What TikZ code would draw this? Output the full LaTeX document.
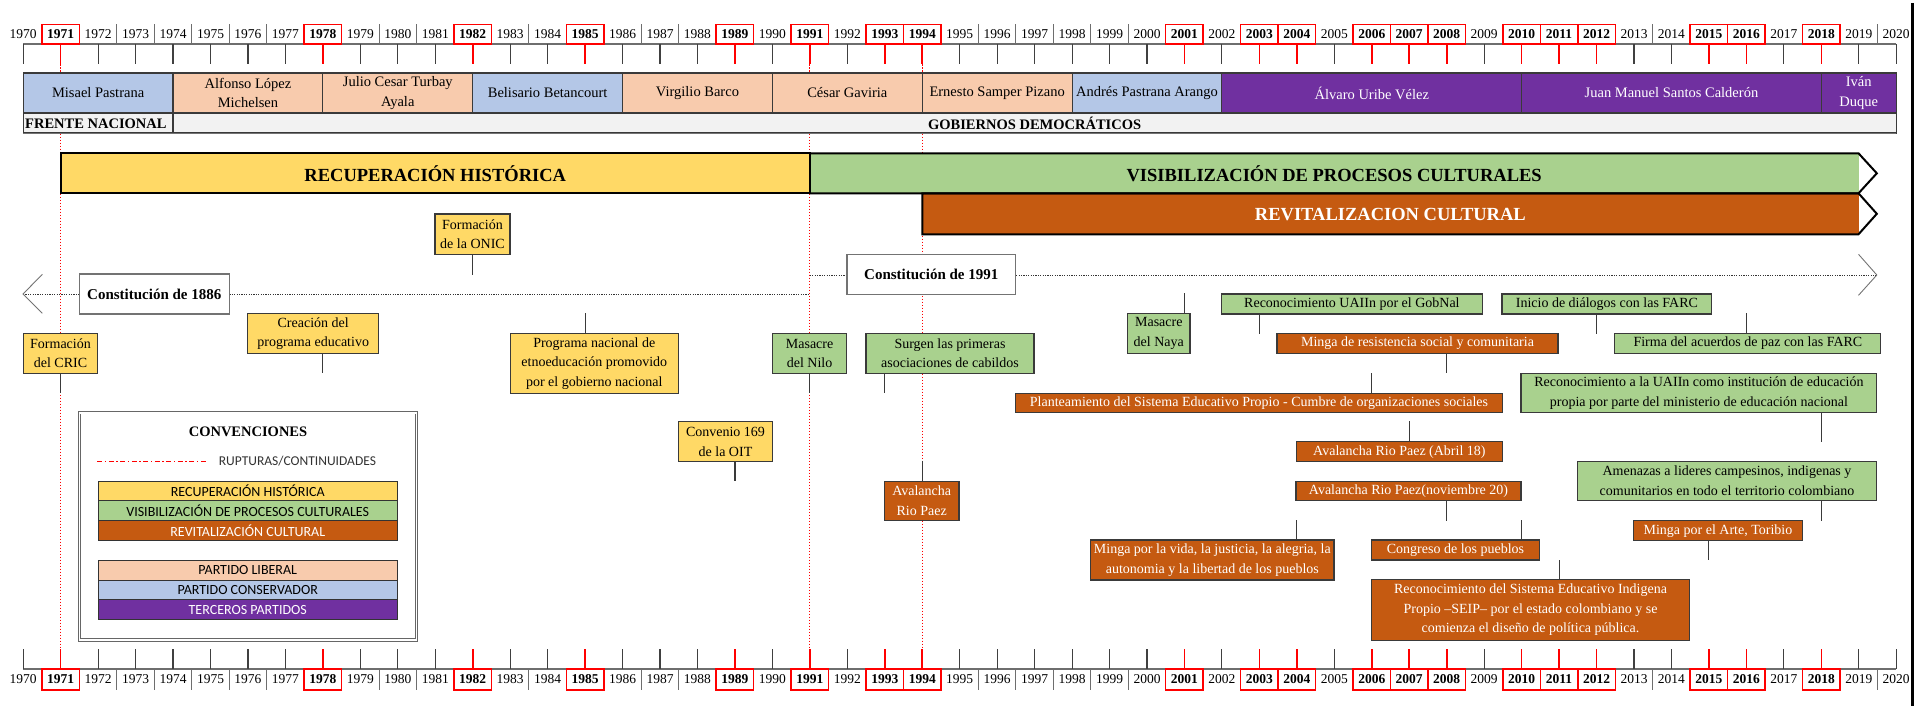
\documentclass[tikz,border=0pt]{standalone}
\usepackage{fontspec}
\setmainfont{Liberation Serif}
\newfontfamily\legfont{Carlito}
\definecolor{cyel}{HTML}{FFD966}
\definecolor{cgrn}{HTML}{A9D18E}
\definecolor{corg}{HTML}{C55A11}
\definecolor{cpch}{HTML}{F8CBAD}
\definecolor{cblu}{HTML}{B4C7E7}
\definecolor{cpur}{HTML}{7030A0}
\definecolor{clgr}{HTML}{F2F2F2}
\definecolor{boxline}{HTML}{3A3A3A}
\definecolor{axgray}{HTML}{6E6E6E}
\begin{document}
\begin{tikzpicture}[x=1pt,y=-1pt,
  declare function={yx(\yy)=23.2+(\yy-1970)*37.46;},
  evt/.style={draw=boxline, line width=1.1pt, inner sep=0pt, align=center,
    font=\fontsize{14}{19.5}\selectfont},
  yel/.style={evt, fill=cyel},
  grn/.style={evt, fill=cgrn},
  org/.style={evt, fill=corg, text=white},
  conn/.style={draw=boxline, line width=1.1pt},
  yrlab/.style={inner sep=0pt, font=\fontsize{13.5}{15}\selectfont},
  yrbold/.style={inner sep=0pt, font=\fontsize{13.5}{15}\selectfont\bfseries},
  tick/.style={draw=black!75, line width=1.1pt},
  redtick/.style={draw=red, line width=1.6pt},
  redbox/.style={draw=red, line width=1.5pt},
  sepline/.style={draw=axgray, line width=1pt},
  pline/.style={draw=boxline, line width=1.1pt},
  ptext/.style={inner sep=0pt, align=center, font=\fontsize{14.5}{19.5}\selectfont},
  phase/.style={inner sep=0pt, font=\fontsize{18.5}{20}\selectfont\bfseries},
  barline/.style={draw=black, line width=2pt, line join=miter},
  rupt/.style={draw=red, line width=1pt, dash pattern=on 1.5pt off 1.5pt},
  dotl/.style={draw=black!80, line width=1pt, dash pattern=on 1.2pt off 1.2pt},
  chev/.style={draw=black!55, line width=0.9pt},
  cbox/.style={draw=black!55, fill=white, line width=1.1pt, inner sep=0pt,
    font=\fontsize{15}{17}\selectfont\bfseries},
  legrow/.style={draw=black!80, line width=1pt, inner sep=0pt,
    minimum width=299.1, minimum height=19.7,
    font=\legfont\fontsize{14}{16}\selectfont}
]
\useasboundingbox (0,0) rectangle (1929,706);

% ---- rupture / continuity lines ----
\foreach \Y in {1971,1991,1994}
  \draw[rupt] ({yx(\Y)},64.5) -- ({yx(\Y)},649);

% ---- year axes (top and bottom) ----
\foreach \Y in {1970,...,2019} {
  \draw[sepline] ({yx(\Y)+18.73},24.3) -- ({yx(\Y)+18.73},44);
  \draw[sepline] ({yx(\Y)+18.73},669) -- ({yx(\Y)+18.73},690);
}
\draw[sepline, line width=1.3pt] ({yx(1970)},44) -- ({yx(2020)},44);
\draw[sepline, line width=1.3pt] ({yx(1970)},669) -- ({yx(2020)},669);
\foreach \Y in {1970,1972,1973,1974,1975,1976,1977,1979,1980,1981,1983,1984,1986,1987,1988,1990,1992,1995,1996,1997,1998,1999,2000,2002,2005,2009,2013,2014,2017,2019,2020} {
  \draw[tick] ({yx(\Y)},44) -- ({yx(\Y)},64.5);
  \draw[tick] ({yx(\Y)},649) -- ({yx(\Y)},669);
  \node[yrlab] (ta\Y) at ({yx(\Y)},34.5) {\Y};
  \node[yrlab] (ba\Y) at ({yx(\Y)},679.5) {\Y};
}
\foreach \Y in {1971,1978,1982,1985,1989,1991,1993,1994,2001,2003,2004,2006,2007,2008,2010,2011,2012,2015,2016,2018} {
  \draw[redtick] ({yx(\Y)},44) -- ({yx(\Y)},64.5);
  \draw[redtick] ({yx(\Y)},649) -- ({yx(\Y)},669);
  \draw[redbox] ({yx(\Y)-18.73},24.3) rectangle ({yx(\Y)+18.73},44);
  \draw[redbox] ({yx(\Y)-18.73},669) rectangle ({yx(\Y)+18.73},690);
  \node[yrbold] (ta\Y) at ({yx(\Y)},34.5) {\Y};
  \node[yrbold] (ba\Y) at ({yx(\Y)},679.5) {\Y};
}

% ---- presidents ----
\newcommand\presbox[6]{%
  \draw[pline, fill=#4] ({yx(#2)},73) rectangle ({yx(#3)},113);
  \node[ptext, text=#5] (#1) at ({(yx(#2)+yx(#3))/2},93) {#6};}
\presbox{pr1}{1970}{1974}{cblu}{black}{Misael Pastrana}
\presbox{pr2}{1974}{1978}{cpch}{black}{Alfonso López\\Michelsen}
\presbox{pr3}{1978}{1982}{cpch}{black}{Julio Cesar Turbay\\Ayala}
\presbox{pr4}{1982}{1986}{cblu}{black}{Belisario Betancourt}
\presbox{pr5}{1986}{1990}{cpch}{black}{Virgilio Barco}
\presbox{pr6}{1990}{1994}{cpch}{black}{César Gaviria}
\presbox{pr7}{1994}{1998}{cpch}{black}{Ernesto Samper Pizano}
\presbox{pr8}{1998}{2002}{cblu}{black}{Andrés Pastrana Arango}
\presbox{pr9}{2002}{2010}{cpur}{white}{Álvaro Uribe Vélez}
\presbox{pr10}{2010}{2018}{cpur}{white}{Juan Manuel Santos Calderón}
\presbox{pr11}{2018}{2020}{cpur}{white}{Iván\\Duque}

% ---- periods ----
\draw[pline, fill=clgr] ({yx(1970)},113) rectangle ({yx(1974)},133);
\draw[pline, fill=clgr] ({yx(1974)},113) rectangle ({yx(2020)},133);
\draw[draw=black!55, line width=1.6pt] ({yx(1970)},133.5) -- ({yx(2020)},133.5);
\node[inner sep=0pt, anchor=west, font=\fontsize{14.5}{16}\selectfont\bfseries] (fn) at (25,123.5) {FRENTE NACIONAL};
\node[inner sep=0pt, font=\fontsize{14.5}{16}\selectfont\bfseries] (gd) at ({(yx(1974)+yx(2020))/2},123.5) {GOBIERNOS DEMOCRÁTICOS};

% ---- phase bars ----
\fill[cyel] ({yx(1971)},153.3) rectangle ({yx(1991)},193.3);
\fill[cgrn] ({yx(1991)},153.3) rectangle (1858.5,193.3);
\fill[corg] ({yx(1994)},193.3) rectangle (1858.5,234.3);
\draw[barline] ({yx(1971)},153.3) rectangle ({yx(1991)},193.3);
\draw[barline] ({yx(1991)},153.3) -- (1858.5,153.3) -- (1876.8,173.3) -- (1858.5,193.3) -- ({yx(1991)},193.3);
\draw[barline] ({yx(1994)},193.3) -- (1858.5,193.3) -- (1876.8,213.8) -- (1858.5,234.3) -- ({yx(1994)},234.3) -- cycle;
\node[phase] (ph1) at ({(yx(1971)+yx(1991))/2},174) {RECUPERACIÓN HISTÓRICA};
\node[phase] (ph2) at ({(yx(1991)+1858.5)/2},174) {VISIBILIZACIÓN DE PROCESOS CULTURALES};
\node[phase, text=white] (ph3) at ({(yx(1994)+1858.5)/2},214.5) {REVITALIZACION CULTURAL};

% ---- constitutions ----
\coordinate (c86L) at (23,294);
\coordinate (c86R) at ({yx(1991)},294);
\draw[dotl] (c86L) -- (c86R);
\draw[chev] (42.4,274.3) -- (c86L) -- (42.4,313.3);
\node[cbox, minimum width=149.5, minimum height=40] (c86) at (154.3,294) {Constitución de 1886};
\coordinate (c91L) at ({yx(1991)},275);
\coordinate (c91R) at (1876.8,275);
\draw[dotl] (c91L) -- (c91R);
\draw[chev] (1858.5,254.3) -- (c91R) -- (1858.5,295.3);
\node[cbox, minimum width=168.7, minimum height=40] (c91) at (931.3,274.3) {Constitución de 1991};

% ---- events ----
\newcommand\stemdown[3]{\coordinate (#1e) at ({yx(#2)},#3); \draw[conn] (#1e |- #1.south) -- (#1e);}
\newcommand\stemup[3]{\coordinate (#1e) at ({yx(#2)},#3); \draw[conn] (#1e |- #1.north) -- (#1e);}

\node[yel, minimum width=74.6, minimum height=40] (crc) at (60.5,353.3) {Formación\\del CRIC};
\stemdown{crc}{1971}{393.3}
\node[yel, minimum width=130.7, minimum height=39.6] (cpe) at (313.2,333.5) {Creación del\\programa educativo};
\stemdown{cpe}{1978}{373.3}
\node[yel, minimum width=75, minimum height=40.7] (onic) at (472.5,234.3) {Formación\\de la ONIC};
\stemdown{onic}{1982}{274.7}
\node[yel, minimum width=168.5, minimum height=60] (pne) at (594.3,363.3) {Programa nacional de\\etnoeducación promovido\\por el gobierno nacional};
\stemup{pne}{1985}{313.3}
\node[yel, minimum width=93.7, minimum height=40] (oit) at (725.5,441.7) {Convenio 169\\de la OIT};
\stemdown{oit}{1989}{481}
\node[grn, minimum width=74.6, minimum height=40] (nilo) at (809.6,353.3) {Masacre\\del Nilo};
\stemdown{nilo}{1991}{393.3}
\node[grn, minimum width=168, minimum height=40] (cab) at (950,353.3) {Surgen las primeras\\asociaciones de cabildos};
\stemdown{cab}{1993}{393.3}
\node[org, minimum width=74.5, minimum height=39.7] (ava94) at (921.7,500.9) {Avalancha\\Rio Paez};
\stemup{ava94}{1994}{461}
\node[grn, minimum width=62.4, minimum height=40] (naya) at (1158.8,333.3) {Masacre\\del Naya};
\stemup{naya}{2001}{293.3}
\node[grn, minimum width=261, minimum height=20] (ugob) at (1351.9,304) {Reconocimiento UAIIn por el GobNal};
\stemdown{ugob}{2003}{334}
\node[org, minimum width=281, minimum height=20] (mres) at (1417.5,343.3) {Minga de resistencia social y comunitaria};
\stemdown{mres}{2008}{373.3}
\node[org, minimum width=487.5, minimum height=19.4] (psep) at (1259,403) {Planteamiento del Sistema Educativo Propio - Cumbre de organizaciones sociales};
\stemup{psep}{2006}{373.3}
\node[org, minimum width=206.7, minimum height=20] (ava18) at (1399.4,451.7) {Avalancha Rio Paez (Abril 18)};
\stemup{ava18}{2007}{421}
\node[org, minimum width=225, minimum height=19.7] (ava20) at (1408.5,490.9) {Avalancha Rio Paez(noviembre 20)};
\stemdown{ava20}{2008}{520.7}
\node[org, minimum width=243.3, minimum height=40] (mvida) at (1212.3,560) {Minga por la vida, la justicia, la alegria, la\\autonomia y la libertad de los pueblos};
\stemup{mvida}{2004}{520}
\node[org, minimum width=168, minimum height=20] (cong) at (1455.5,550) {Congreso de los pueblos};
\stemup{cong}{2010}{520}
\node[org, minimum width=318, minimum height=60.7] (seip) at (1530.5,609.7) {Reconocimiento del Sistema Educativo Indigena\\Propio –SEIP– por el estado colombiano y se\\comienza el diseño de política pública.};
\stemup{seip}{2011}{560}
\node[grn, minimum width=209.8, minimum height=20] (farc1) at (1606.9,304) {Inicio de diálogos con las FARC};
\stemdown{farc1}{2012}{334}
\node[grn, minimum width=266, minimum height=20] (farc2) at (1747.9,343.3) {Firma del acuerdos de paz con las FARC};
\stemup{farc2}{2016}{313.3}
\node[grn, minimum width=355.8, minimum height=39.4] (uain) at (1698.9,393) {Reconocimiento a la UAIIn como institución de educación\\propia por parte del ministerio de educación nacional};
\stemdown{uain}{2018}{441.7}
\node[grn, minimum width=299.5, minimum height=39.7] (amen) at (1727,480.9) {Amenazas a lideres campesinos, indigenas y\\comunitarios en todo el territorio colombiano};
\stemdown{amen}{2018}{520.7}
\node[org, minimum width=168.7, minimum height=20] (arte) at (1717.9,530.7) {Minga por el Arte, Toribio};
\stemdown{arte}{2015}{560}

% ---- legend ----
\draw[draw=black!60, double=white, double distance=1.6pt, line width=0.8pt, fill=white] (79.5,412.8) rectangle (416.5,640);
\node[inner sep=0pt, font=\fontsize{14.5}{16}\selectfont\bfseries] (lgt) at (248,431.7) {CONVENCIONES};
\coordinate (lgr1) at (97.3,461);
\coordinate (lgr2) at (207.6,461);
\draw[draw=red, line width=1pt, dash pattern=on 5pt off 2.5pt on 1.5pt off 2.5pt] (lgr1) -- (lgr2);
\node[inner sep=0pt, anchor=west, text=black!80, font=\legfont\fontsize{13.5}{15}\selectfont] (lgrt) at (218.7,461.5) {RUPTURAS/CONTINUIDADES};
\node[legrow, fill=cyel] (lg1) at (247.75,490.85) {RECUPERACIÓN HISTÓRICA};
\node[legrow, fill=cgrn] (lg2) at (247.75,510.55) {VISIBILIZACIÓN DE PROCESOS CULTURALES};
\node[legrow, fill=corg, text=white] (lg3) at (247.75,530.25) {REVITALIZACIÓN CULTURAL};
\node[legrow, fill=cpch] (lg4) at (247.75,570.15) {PARTIDO LIBERAL};
\node[legrow, fill=cblu] (lg5) at (247.75,589.85) {PARTIDO CONSERVADOR};
\node[legrow, fill=cpur, text=white] (lg6) at (247.75,609.55) {TERCEROS PARTIDOS};

% ---- right frame edge ----
\draw[line width=2.5pt] (1912.5,3) -- (1912.5,706);
\end{tikzpicture}
\end{document}
